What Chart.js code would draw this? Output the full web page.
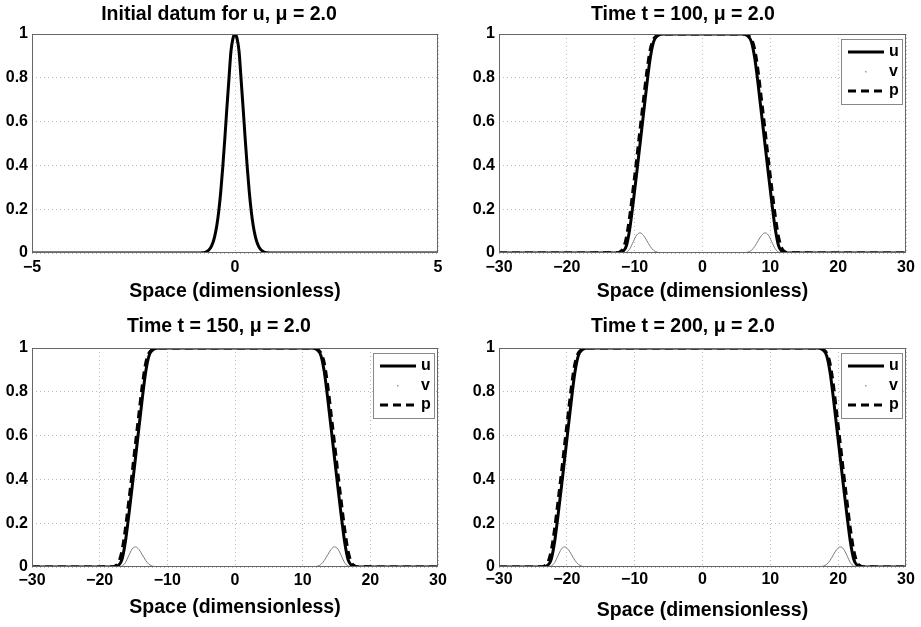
<!DOCTYPE html>
<html>
<head>
<meta charset="utf-8">
<script src="https://cdn.jsdelivr.net/npm/chart.js@4.4.1/dist/chart.umd.min.js"></script>
<style>
body{margin:0;background:#fff;width:921px;height:627px;position:relative;overflow:hidden}
canvas{position:absolute}
</style>
</head>
<body>
<canvas id="c0" width="460" height="310" style="left:0;top:0"></canvas>
<canvas id="c1" width="461" height="310" style="left:460px;top:0"></canvas>
<canvas id="c2" width="460" height="317" style="left:0;top:310px"></canvas>
<canvas id="c3" width="461" height="317" style="left:460px;top:310px"></canvas>
<script>
// initial datum, x in [-5,5]
const xInit = [-5, -1, -0.9, -0.8, -0.7, -0.6, -0.55, -0.5, -0.45, -0.4, -0.35, -0.3, -0.25, -0.2, -0.15, -0.1, -0.05, 0,
  0.05, 0.1, 0.15, 0.2, 0.25, 0.3, 0.35, 0.4, 0.45, 0.5, 0.55, 0.6, 0.7, 0.8, 0.9, 1, 5];
const uInit = [0, 0, 0, 0.001, 0.006, 0.024, 0.044, 0.076, 0.123, 0.191, 0.282, 0.395, 0.524, 0.662, 0.793, 0.92, 0.98, 1,
  0.98, 0.92, 0.793, 0.662, 0.524, 0.395, 0.282, 0.191, 0.123, 0.076, 0.044, 0.024, 0.006, 0.001, 0, 0, 0];

// sample positions for the travelling fronts at t = 100, 150, 200
const xT100 = [-30, -12.7, -12.2, -11.7, -11.2, -10.7, -10.2, -9.7, -9.2, -8.7, -8.2, -7.7, -7.2, -6.7, -6.2, -5.7,
  5.7, 6.2, 6.7, 7.2, 7.7, 8.2, 8.7, 9.2, 9.7, 10.2, 10.7, 11.2, 11.7, 12.2, 12.7, 30];
const xT150 = [-30, -18.2, -17.7, -17.2, -16.7, -16.2, -15.7, -15.2, -14.7, -14.2, -13.7, -13.2, -12.7, -12.2, -11.7, -11.2,
  11.2, 11.7, 12.2, 12.7, 13.2, 13.7, 14.2, 14.7, 15.2, 15.7, 16.2, 16.7, 17.2, 17.7, 18.2, 30];
const xT200 = [-30, -23.8, -23.3, -22.8, -22.3, -21.8, -21.3, -20.8, -20.3, -19.8, -19.3, -18.8, -18.3, -17.8, -17.3, -16.8,
  16.8, 17.3, 17.8, 18.3, 18.8, 19.3, 19.8, 20.3, 20.8, 21.3, 21.8, 22.3, 22.8, 23.3, 23.8, 30];

// u, v, p at those positions (same front shape in every panel)
const uFront = [0, 0, 0.001, 0.008, 0.035, 0.115, 0.235, 0.365, 0.5, 0.635, 0.77, 0.89, 0.965, 0.99, 0.998, 1,
  1, 0.998, 0.99, 0.965, 0.89, 0.77, 0.635, 0.5, 0.365, 0.235, 0.115, 0.035, 0.008, 0.001, 0, 0];
const vFront = [0, 0, 0, 0.001, 0.004, 0.02, 0.052, 0.082, 0.092, 0.08, 0.056, 0.03, 0.012, 0.004, 0.001, 0,
  0, 0.001, 0.004, 0.012, 0.03, 0.056, 0.08, 0.092, 0.082, 0.052, 0.02, 0.004, 0.001, 0, 0, 0];
const pFront = [0, 0.001, 0.005, 0.021, 0.075, 0.175, 0.3, 0.43, 0.567, 0.7, 0.83, 0.93, 0.978, 0.994, 0.999, 1,
  1, 0.999, 0.994, 0.978, 0.93, 0.83, 0.7, 0.567, 0.43, 0.3, 0.175, 0.075, 0.021, 0.005, 0.001, 0];

const yTicksStep = 0.2;
const FONT = "'Liberation Sans', Arial, Helvetica, sans-serif";

function pts(xs, ys) { return xs.map((x, i) => ({x: x, y: ys[i]})); }

function lineSet(label, xs, ys, kind) {
  const s = {label: label, data: pts(xs, ys), pointRadius: 0, fill: false, cubicInterpolationMode: 'monotone'};
  if (kind == 'u') { s.borderColor = '#000'; s.borderWidth = 3; }
  if (kind == 'v') { s.borderColor = '#7a7a7a'; s.borderWidth = 1; s.keyDot = true; }
  if (kind == 'p') { s.borderColor = '#000'; s.borderWidth = 3; s.borderDash = [8, 5]; }
  return s;
}

// axes box
const frame = {
  id: 'frame',
  afterDatasetsDraw(chart) {
    const ctx = chart.ctx, a = chart.chartArea;
    ctx.save();
    ctx.strokeStyle = '#666';
    ctx.lineWidth = 1;
    ctx.strokeRect(a.left + 0.5, a.top + 0.5, a.right - a.left - 1, a.bottom - a.top - 1);
    ctx.restore();
  }
};

// matlab style legend box in the top right corner
const keyBox = {
  id: 'keyBox',
  afterDraw(chart, args, opts) {
    if (!opts.show) return;
    const ctx = chart.ctx, a = chart.chartArea;
    const w = 61, h = 65;
    const x0 = a.right - 4 - w, y0 = a.top + 5;
    ctx.save();
    ctx.fillStyle = '#fff';
    ctx.fillRect(x0, y0, w, h);
    ctx.strokeStyle = '#888';
    ctx.lineWidth = 1;
    ctx.strokeRect(x0 + 0.5, y0 + 0.5, w, h);
    ctx.font = 'bold 16px ' + FONT;
    ctx.textBaseline = 'middle';
    chart.data.datasets.forEach((ds, i) => {
      const y = y0 + 13 + i * 19.5;
      if (ds.keyDot) {
        ctx.fillStyle = '#999';
        ctx.fillRect(x0 + 24, y - 0.5, 1.5, 1.5);
      } else {
        ctx.strokeStyle = ds.borderColor;
        ctx.lineWidth = ds.borderWidth;
        ctx.setLineDash(ds.borderDash || []);
        ctx.beginPath();
        ctx.moveTo(x0 + 7, y);
        ctx.lineTo(x0 + 43, y);
        ctx.stroke();
        ctx.setLineDash([]);
      }
      ctx.fillStyle = '#000';
      ctx.fillText(ds.label, x0 + 48, y);
    });
    ctx.restore();
  }
};

function panel(id, box, title, xMin, xMax, xStep, sets, showKey) {
  const tickFont = {family: FONT, size: 16, weight: 'bold', lineHeight: 1.2};
  const bigFont = {family: FONT, size: 19.5, weight: 'bold', lineHeight: 1.2};
  const grid = {color: '#b8b8b8', lineWidth: 1, drawTicks: false};
  const border = {display: false, dash: [1, 3]};
  new Chart(document.getElementById(id), {
    type: 'line',
    data: {datasets: sets},
    options: {
      responsive: false,
      animation: false,
      devicePixelRatio: 1,
      layout: {padding: {left: 0, right: box.right, top: 0, bottom: 0}},
      plugins: {
        legend: {display: false},
        tooltip: {enabled: false},
        title: {display: true, text: title, color: '#000', font: bigFont, padding: {top: box.tTop, bottom: box.tBot}},
        keyBox: {show: showKey}
      },
      scales: {
        x: {
          type: 'linear', min: xMin, max: xMax,
          ticks: {stepSize: xStep, padding: box.tickPad, color: '#000', font: tickFont,
            callback: v => (v < 0 ? '\u2212' + Math.abs(v) : String(v))},
          grid: grid, border: border,
          title: {display: true, text: 'Space (dimensionless)', color: '#000', font: bigFont, padding: {top: 0, bottom: box.axPad}},
          afterFit: s => { s.height = box.xH; }
        },
        y: {
          min: 0, max: 1,
          ticks: {stepSize: yTicksStep, padding: 4, color: '#000', font: tickFont,
            callback: v => String(Math.round(v * 10) / 10)},
          grid: grid, border: border,
          afterFit: s => { s.width = box.yW; }
        }
      }
    },
    plugins: [frame, keyBox]
  });
}

panel('c0', {right: 22, yW: 32, xH: 57, tTop: 3.3, tBot: 7.3, tickPad: 5.4, axPad: 6.8},
  'Initial datum for u, \u03bc = 2.0', -5, 5, 5,
  [lineSet('u', xInit, uInit, 'u')], false);

panel('c1', {right: 15, yW: 39, xH: 57, tTop: 3.3, tBot: 7.3, tickPad: 5.4, axPad: 6.8},
  'Time t = 100, \u03bc = 2.0', -30, 30, 10,
  [lineSet('u', xT100, uFront, 'u'), lineSet('v', xT100, vFront, 'v'), lineSet('p', xT100, pFront, 'p')], true);

panel('c2', {right: 22, yW: 32, xH: 60, tTop: 5.3, tBot: 9.3, tickPad: 4.4, axPad: 7.3},
  'Time t = 150, \u03bc = 2.0', -30, 30, 10,
  [lineSet('u', xT150, uFront, 'u'), lineSet('v', xT150, vFront, 'v'), lineSet('p', xT150, pFront, 'p')], true);

panel('c3', {right: 15, yW: 39, xH: 60, tTop: 5.3, tBot: 9.3, tickPad: 3.4, axPad: 4.3},
  'Time t = 200, \u03bc = 2.0', -30, 30, 10,
  [lineSet('u', xT200, uFront, 'u'), lineSet('v', xT200, vFront, 'v'), lineSet('p', xT200, pFront, 'p')], true);
</script>
</body>
</html>
